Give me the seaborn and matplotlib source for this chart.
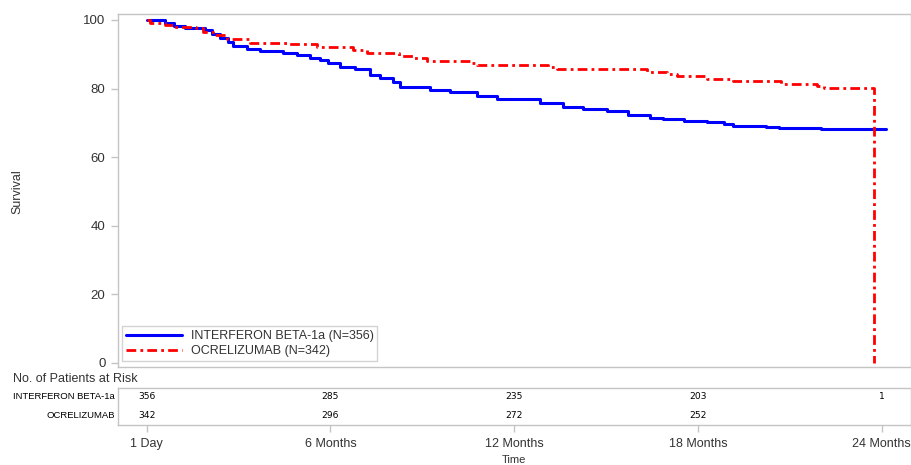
import numpy as np
import pandas as pd
import matplotlib
matplotlib.use("Agg")
import matplotlib.pyplot as plt
import seaborn as sns

# ---- data (months from first day, survival %) ----
ifn_time = [0, 0.6, 0.9, 1.24, 1.9, 2.13, 2.39, 2.65, 2.81, 3.27, 3.7, 4.45, 4.9,
            5.33, 5.66, 5.92, 6.31, 6.8, 7.29, 7.62, 8.04, 8.27, 9.25, 9.91, 10.79,
            11.45, 12.85, 13.6, 14.26, 15.04, 15.7, 16.45, 16.87, 17.53, 18.31,
            18.84, 19.13, 20.21, 20.63, 22.01, 24.13]
ifn_surv = [100, 99.2, 98.2, 97.6, 97.0, 96.0, 94.8, 93.5, 92.3, 91.5, 91.0, 90.5, 89.7,
            89.0, 88.3, 87.5, 86.3, 85.7, 84.0, 83.0, 82.0, 80.5, 79.7, 78.9, 77.8,
            76.9, 75.9, 74.6, 74.1, 73.4, 72.4, 71.4, 71.0, 70.6, 70.1,
            69.6, 69.1, 68.8, 68.4, 68.1, 68.1]

ocr_time = [0, 0.1, 0.6, 0.9, 1.6, 1.83, 2.16, 2.62, 3.37, 4.58, 5.56, 6.73, 7.19,
            8.24, 8.74, 9.16, 10.56, 10.79, 13.1, 13.4, 16.35, 17.0, 17.33, 18.31,
            19.16, 20.7, 21.9, 22.1, 23.74]
ocr_surv = [100, 99.2, 98.6, 98.0, 97.6, 96.6, 95.6, 94.4, 93.4, 93.0, 92.0, 91.2, 90.3,
            89.5, 88.8, 88.1, 87.4, 86.8, 86.3, 85.6, 84.7, 84.2, 83.6, 82.7,
            82.1, 81.4, 80.8, 80.2, 0]

groups = ["INTERFERON BETA-1a", "OCRELIZUMAB"]
group_n = [356, 342]
tick_months = [0, 6, 12, 18, 24]
tick_labels = ["1 Day", "6 Months", "12 Months", "18 Months", "24 Months"]
risk_ifn = [356, 285, 235, 203, 1]
risk_ocr = [342, 296, 272, 252, None]

# ---- style ----
sns.set_theme(style="white")
plt.rcParams["font.family"] = ["Liberation Sans", "DejaVu Sans"]
gray = "#c4c4c4"
txt = "#333333"

W, H = 912, 465
fig = plt.figure(figsize=(W / 100, H / 100), dpi=100)

def fx(px):
    return px / W

def fy(py):
    return 1 - py / H

left, right = 118, 910.5
ax = fig.add_axes([fx(left), fy(367), fx(right - left), fy(14) - fy(367)])
tab = fig.add_axes([fx(left), fy(425), fx(right - left), fy(387.7) - fy(425)])

df_ifn = pd.DataFrame({"t": ifn_time, "s": ifn_surv})
df_ocr = pd.DataFrame({"t": ocr_time, "s": ocr_surv})

sns.lineplot(data=df_ifn, x="t", y="s", ax=ax, estimator=None, sort=False,
             drawstyle="steps-post", color="#0000ff", linewidth=2.2,
             label=f"{groups[0]} (N={group_n[0]})")
sns.lineplot(data=df_ocr, x="t", y="s", ax=ax, estimator=None, sort=False,
             drawstyle="steps-post", color="#ff0000", linewidth=2.0,
             label=f"{groups[1]} (N={group_n[1]})")
ax.lines[1].set_dashes((3.5, 1.5, 1, 1.5))

xmin, xmax = -0.937, 24.94
ax.set_xlim(xmin, xmax)
ax.set_ylim(-1.25, 101.75)
ax.set_yticks([0, 20, 40, 60, 80, 100])
ax.set_xticks([])
ax.set_xlabel("")
ax.set_ylabel("")
for s in ax.spines.values():
    s.set_color(gray)
    s.set_linewidth(1.0)
    s.set_visible(True)
ax.tick_params(axis="y", which="both", left=True, length=5, width=1, color=gray,
               labelsize=9.5, labelcolor=txt, pad=4)

leg = ax.legend(loc="lower left", bbox_to_anchor=(0.005, 0.017), borderaxespad=0,
                frameon=True, fancybox=False, edgecolor="#c8c8c8", fontsize=9,
                handlelength=4.5, handletextpad=0.7, labelspacing=0.25,
                borderpad=0.3)
leg.get_frame().set_linewidth(1.0)
for t in leg.get_texts():
    t.set_color(txt)

# ---- risk table ----
tab.set_xlim(xmin, xmax)
tab.set_ylim(0, 1)
tab.set_yticks([])
tab.set_xticks(tick_months)
tab.set_xticklabels(tick_labels)
tab.tick_params(axis="x", bottom=True, length=5, width=1, color=gray,
                labelsize=9, labelcolor=txt, pad=4)
for s in tab.spines.values():
    s.set_color(gray)
    s.set_linewidth(1.0)
    s.set_visible(True)
row_y = [1 - 0.241, 1 - 0.751]
for m, a, b in zip(tick_months, risk_ifn, risk_ocr):
    if a is not None:
        tab.text(m, row_y[0], str(a), ha="center", va="center", fontsize=6.6,
                 family=["DejaVu Sans"], color="black")
    if b is not None:
        tab.text(m, row_y[1], str(b), ha="center", va="center", fontsize=6.6,
                 family=["DejaVu Sans"], color="black")
for lab, yy in zip(groups, row_y):
    tab.text(-0.004, yy, lab, transform=tab.transAxes, ha="right", va="center",
             fontsize=6.8, color="black")

fig.text(fx(13), fy(379), "No. of Patients at Risk", ha="left", va="center",
         fontsize=9, color=txt)
fig.text(fx(17), fy(192), "Survival", rotation=90, ha="center", va="center",
         fontsize=9, color=txt)
fig.text(fx((left + right) / 2), fy(464.5), "Time", ha="center", va="bottom",
         fontsize=8, color=txt)

fig.savefig("out.png", dpi=100)
